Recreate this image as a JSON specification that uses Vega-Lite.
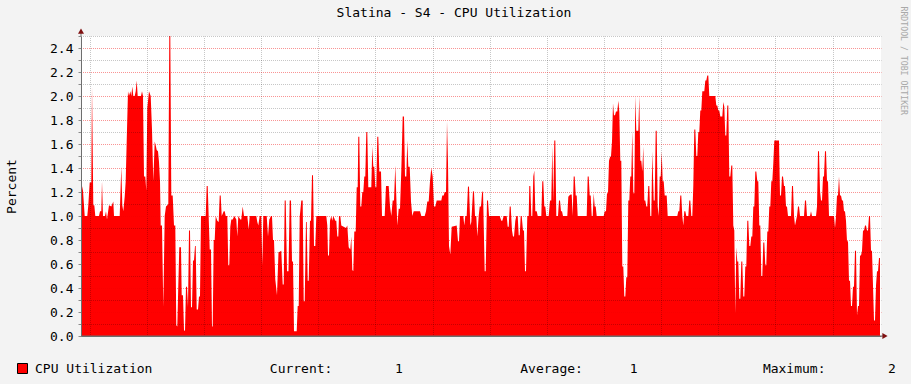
{
  "$schema": "https://vega.github.io/schema/vega-lite/v6.json",
  "width": 800,
  "height": 300,
  "autosize": {"type": "none"},
  "padding": {"left": 81, "top": 36, "right": 30, "bottom": 48},
  "background": "#f3f3f3",
  "config": {
    "font": "DejaVu Sans Mono",
    "view": {"fill": "#ffffff", "stroke": null}
  },
  "title": {
    "text": "Slatina - S4 - CPU Utilization",
    "font": "DejaVu Sans Mono",
    "fontSize": 13,
    "fontWeight": "normal",
    "color": "#000000",
    "anchor": "middle",
    "frame": "group",
    "offset": 0,
    "dx": -27,
    "dy": 14
  },
  "data": {"values": [
    {"t":0,"cpu":1.29},{"t":2,"cpu":1.21},{"t":3.7,"cpu":1.0},{"t":6.3,"cpu":1.0},{"t":7.3,"cpu":1.09},{"t":8.7,"cpu":1.28},{"t":10.3,"cpu":1.28},{"t":11,"cpu":2.08},{"t":12.3,"cpu":1.09},{"t":13.3,"cpu":1.09},{"t":14.3,"cpu":1.0},{"t":18,"cpu":1.0},{"t":19,"cpu":1.04},{"t":20.3,"cpu":1.04},{"t":21,"cpu":1.29},{"t":22,"cpu":1.0},{"t":24,"cpu":1.0},{"t":25,"cpu":1.04},{"t":26,"cpu":0.97},{"t":28,"cpu":1.09},{"t":30.3,"cpu":1.08},{"t":32.3,"cpu":1.12},{"t":33,"cpu":1.0},{"t":38.7,"cpu":1.0},{"t":40.3,"cpu":1.41},{"t":41.3,"cpu":1.09},{"t":42.3,"cpu":1.04},{"t":43.7,"cpu":1.16},{"t":44.7,"cpu":1.29},{"t":46,"cpu":1.72},{"t":47,"cpu":2.04},{"t":48,"cpu":2.0},{"t":49.3,"cpu":2.04},{"t":50.3,"cpu":2.0},{"t":51.3,"cpu":2.08},{"t":52.3,"cpu":2.0},{"t":53.7,"cpu":2.0},{"t":54.7,"cpu":2.04},{"t":55.7,"cpu":2.13},{"t":56.7,"cpu":2.0},{"t":60,"cpu":2.0},{"t":61,"cpu":2.04},{"t":62,"cpu":2.0},{"t":63,"cpu":1.33},{"t":64.3,"cpu":1.33},{"t":65.3,"cpu":1.21},{"t":66.3,"cpu":1.9},{"t":68,"cpu":2.04},{"t":69.7,"cpu":2.0},{"t":71,"cpu":1.72},{"t":72.3,"cpu":1.29},{"t":73.7,"cpu":1.62},{"t":74.7,"cpu":1.59},{"t":75.7,"cpu":1.55},{"t":77,"cpu":1.54},{"t":78,"cpu":1.45},{"t":79,"cpu":1.29},{"t":79.7,"cpu":0.92},{"t":81,"cpu":0.92},{"t":82.3,"cpu":0.24},{"t":83.7,"cpu":1.0},{"t":85,"cpu":1.08},{"t":86.3,"cpu":1.09},{"t":87.3,"cpu":1.1},{"t":88.3,"cpu":2.5},{"t":89.3,"cpu":2.5},{"t":90.3,"cpu":1.17},{"t":91.7,"cpu":1.17},{"t":93,"cpu":0.92},{"t":94.3,"cpu":0.92},{"t":95.3,"cpu":0.09},{"t":96.3,"cpu":0.08},{"t":97.3,"cpu":0.42},{"t":98.3,"cpu":0.74},{"t":100,"cpu":0.74},{"t":100.7,"cpu":0.34},{"t":102,"cpu":0.34},
    {"t":103,"cpu":0.05},{"t":104,"cpu":0.04},{"t":105,"cpu":0.41},{"t":106,"cpu":0.41},{"t":107,"cpu":0.24},{"t":108,"cpu":0.88},{"t":109,"cpu":0.88},{"t":110,"cpu":0.24},{"t":111,"cpu":0.24},{"t":112,"cpu":0.63},{"t":113,"cpu":0.63},{"t":114,"cpu":0.75},{"t":114.7,"cpu":0.75},{"t":115.7,"cpu":0.22},{"t":117,"cpu":0.22},{"t":118,"cpu":0.33},{"t":119,"cpu":0.33},{"t":120,"cpu":1.0},{"t":124.7,"cpu":1.0},{"t":125.7,"cpu":1.25},{"t":126.7,"cpu":1.25},{"t":127.7,"cpu":0.99},{"t":128.7,"cpu":0.72},{"t":130,"cpu":0.72},{"t":131,"cpu":0.08},{"t":131.7,"cpu":0.08},{"t":132.7,"cpu":0.8},{"t":133.7,"cpu":0.8},{"t":134.7,"cpu":1.0},{"t":136.3,"cpu":0.96},{"t":137.7,"cpu":0.95},{"t":138.7,"cpu":1.17},{"t":139.7,"cpu":1.17},{"t":140.7,"cpu":1.0},{"t":142.7,"cpu":1.04},{"t":143.7,"cpu":1.04},{"t":144.7,"cpu":1.0},{"t":146.3,"cpu":1.0},{"t":147.3,"cpu":0.59},{"t":148.3,"cpu":0.59},{"t":149.3,"cpu":0.91},{"t":150.3,"cpu":0.97},{"t":151.7,"cpu":0.97},{"t":153.3,"cpu":1.0},{"t":155.3,"cpu":0.97},{"t":156.3,"cpu":0.83},{"t":157.3,"cpu":1.0},{"t":159.3,"cpu":0.97},{"t":160.3,"cpu":0.97},{"t":161.7,"cpu":1.08},{"t":163,"cpu":1.0},{"t":166.3,"cpu":1.0},{"t":167.7,"cpu":0.89},{"t":168.7,"cpu":1.0},{"t":175.3,"cpu":1.0},{"t":176.3,"cpu":0.95},{"t":177.3,"cpu":0.92},{"t":178.7,"cpu":1.0},{"t":180.3,"cpu":1.0},{"t":181.3,"cpu":0.59},{"t":182.3,"cpu":1.0},{"t":185.7,"cpu":1.0},{"t":187,"cpu":0.83},{"t":188.3,"cpu":0.97},{"t":190,"cpu":1.0},{"t":191,"cpu":1.0},{"t":192,"cpu":0.8},{"t":193,"cpu":0.8},{"t":194.3,"cpu":0.47},{"t":196,"cpu":0.34},{"t":197.5,"cpu":0.7},
    {"t":198.3,"cpu":0.7},{"t":200.3,"cpu":0.71},{"t":201.7,"cpu":0.43},{"t":202.7,"cpu":0.43},{"t":203.7,"cpu":1.13},{"t":204.7,"cpu":1.13},{"t":206,"cpu":0.54},{"t":207.5,"cpu":0.54},{"t":208.7,"cpu":1.13},{"t":210,"cpu":1.13},{"t":211,"cpu":0.62},{"t":212,"cpu":0.62},{"t":213,"cpu":0.04},{"t":215.7,"cpu":0.04},{"t":216.7,"cpu":0.25},{"t":217.7,"cpu":0.25},{"t":218.7,"cpu":0.99},{"t":220.3,"cpu":1.13},{"t":221.7,"cpu":1.13},{"t":222.7,"cpu":0.29},{"t":223.7,"cpu":0.29},{"t":225,"cpu":0.95},{"t":225.7,"cpu":0.95},{"t":226.7,"cpu":0.46},{"t":227.7,"cpu":0.46},{"t":229,"cpu":0.96},{"t":230,"cpu":0.96},{"t":231,"cpu":1.34},{"t":232,"cpu":1.34},{"t":233,"cpu":0.75},{"t":234.3,"cpu":0.75},{"t":235.3,"cpu":1.0},{"t":245.3,"cpu":1.0},{"t":246.3,"cpu":0.92},{"t":247,"cpu":0.67},{"t":248,"cpu":0.67},{"t":249,"cpu":0.96},{"t":250.3,"cpu":1.0},{"t":251.3,"cpu":0.96},{"t":252.3,"cpu":1.0},{"t":254.3,"cpu":0.96},{"t":255.3,"cpu":0.96},{"t":256.3,"cpu":0.83},{"t":257.3,"cpu":0.83},{"t":258,"cpu":1.0},{"t":259.3,"cpu":1.0},{"t":260.3,"cpu":0.92},{"t":265,"cpu":0.9},{"t":266.3,"cpu":0.92},{"t":267.7,"cpu":0.74},{"t":269.3,"cpu":0.72},{"t":270.3,"cpu":0.83},{"t":271.3,"cpu":0.55},{"t":272.3,"cpu":0.54},{"t":273.3,"cpu":0.87},{"t":274.7,"cpu":0.87},{"t":275.7,"cpu":1.24},{"t":276.7,"cpu":1.24},{"t":277.3,"cpu":1.66},{"t":278.3,"cpu":1.66},{"t":279.3,"cpu":1.08},{"t":280.3,"cpu":1.08},{"t":281.3,"cpu":1.2},{"t":282.3,"cpu":1.2},{"t":283.3,"cpu":1.33},{"t":284.3,"cpu":1.33},{"t":285.3,"cpu":1.7},{"t":286.3,"cpu":1.7},{"t":287.3,"cpu":1.24},{"t":290.3,"cpu":1.24},{"t":291.3,"cpu":1.58},{"t":292.3,"cpu":1.41},{"t":293.3,"cpu":1.41},{"t":294.3,"cpu":1.24},{"t":295.3,"cpu":1.24},{"t":296.3,"cpu":1.66},{"t":297.3,"cpu":1.66},{"t":298.3,"cpu":1.37},{"t":300,"cpu":1.37},
    {"t":301,"cpu":1.0},{"t":303.7,"cpu":1.0},{"t":305,"cpu":1.25},{"t":307.7,"cpu":1.25},{"t":309,"cpu":1.08},{"t":310.3,"cpu":1.0},{"t":311.7,"cpu":1.13},{"t":313,"cpu":1.13},{"t":314.3,"cpu":1.42},{"t":315.3,"cpu":1.16},{"t":316.3,"cpu":0.92},{"t":317.7,"cpu":1.06},{"t":319,"cpu":1.06},{"t":320.3,"cpu":1.38},{"t":321.7,"cpu":1.83},{"t":323,"cpu":1.83},{"t":324,"cpu":1.33},{"t":325.3,"cpu":1.33},{"t":326.3,"cpu":1.63},{"t":327.3,"cpu":1.41},{"t":328.7,"cpu":1.41},{"t":330,"cpu":1.12},{"t":331.3,"cpu":1.0},{"t":332.7,"cpu":1.04},{"t":339,"cpu":1.04},{"t":340.3,"cpu":1.0},{"t":343.7,"cpu":1.0},{"t":345,"cpu":1.04},{"t":346.3,"cpu":1.12},{"t":347.7,"cpu":1.12},{"t":349,"cpu":1.29},{"t":350.3,"cpu":1.4},{"t":351.7,"cpu":1.33},{"t":353,"cpu":1.08},{"t":354.3,"cpu":1.08},{"t":355.7,"cpu":1.13},{"t":360.3,"cpu":1.13},{"t":361.3,"cpu":1.17},{"t":362.7,"cpu":1.17},{"t":363.7,"cpu":1.2},{"t":365,"cpu":1.2},{"t":366,"cpu":1.79},{"t":367,"cpu":1.44},{"t":368,"cpu":0.75},{"t":369.3,"cpu":0.68},{"t":370.7,"cpu":0.91},{"t":375.7,"cpu":0.92},{"t":377,"cpu":0.79},{"t":378,"cpu":0.79},{"t":379,"cpu":1.0},{"t":382.3,"cpu":1.0},{"t":383.3,"cpu":0.92},{"t":384.3,"cpu":1.0},{"t":385.7,"cpu":1.0},{"t":387,"cpu":1.25},{"t":388,"cpu":1.24},{"t":389.3,"cpu":0.92},{"t":390.3,"cpu":0.95},{"t":392,"cpu":1.21},{"t":393,"cpu":1.2},{"t":394,"cpu":1.0},{"t":395.3,"cpu":1.0},{"t":396.3,"cpu":0.83},{"t":397.7,"cpu":1.0},{"t":398.7,"cpu":1.08},{"t":400,"cpu":1.08},{"t":401,"cpu":1.19},{"t":402,"cpu":1.21},
    {"t":403.7,"cpu":0.54},{"t":404.7,"cpu":0.54},{"t":406,"cpu":1.13},{"t":407,"cpu":1.13},{"t":408,"cpu":1.0},{"t":418.7,"cpu":1.0},{"t":420.3,"cpu":0.96},{"t":421.3,"cpu":0.96},{"t":422.7,"cpu":1.0},{"t":425.7,"cpu":1.0},{"t":426.7,"cpu":0.91},{"t":427.7,"cpu":0.91},{"t":428.7,"cpu":1.08},{"t":429.7,"cpu":1.08},{"t":431,"cpu":0.88},{"t":432,"cpu":0.83},{"t":433,"cpu":0.83},{"t":434.3,"cpu":0.96},{"t":435.3,"cpu":1.0},{"t":436.7,"cpu":1.0},{"t":437.7,"cpu":0.84},{"t":438.7,"cpu":0.84},{"t":439.7,"cpu":1.0},{"t":440.7,"cpu":1.0},{"t":442,"cpu":0.88},{"t":443,"cpu":0.88},{"t":444,"cpu":0.54},{"t":445,"cpu":0.54},{"t":446.3,"cpu":1.0},{"t":447.7,"cpu":1.0},{"t":448.3,"cpu":1.25},{"t":449.3,"cpu":1.25},{"t":450.3,"cpu":1.0},{"t":451.3,"cpu":1.0},{"t":452.3,"cpu":1.33},{"t":453.3,"cpu":1.38},{"t":454.3,"cpu":1.04},{"t":455.7,"cpu":1.04},{"t":456.7,"cpu":1.0},{"t":460.3,"cpu":1.0},{"t":461.3,"cpu":1.29},{"t":462.3,"cpu":1.29},{"t":463.3,"cpu":1.08},{"t":464.3,"cpu":1.08},{"t":465.3,"cpu":1.0},{"t":467.7,"cpu":1.0},{"t":469,"cpu":1.13},{"t":470.3,"cpu":1.13},{"t":471.3,"cpu":1.58},{"t":472.3,"cpu":1.12},{"t":473.3,"cpu":1.63},{"t":474.3,"cpu":1.63},{"t":475.3,"cpu":1.0},{"t":477,"cpu":1.0},{"t":478,"cpu":1.13},{"t":479,"cpu":1.13},{"t":480,"cpu":1.04},{"t":481,"cpu":1.04},{"t":482,"cpu":1.0},{"t":486.3,"cpu":1.0},{"t":487.3,"cpu":1.16},{"t":488.3,"cpu":1.17},{"t":489.7,"cpu":1.18},{"t":490.7,"cpu":1.18},{"t":491.7,"cpu":1.0},{"t":492.7,"cpu":1.33},{"t":493.7,"cpu":1.33},{"t":494.7,"cpu":1.17},{"t":495.7,"cpu":1.17},{"t":496.7,"cpu":1.0},
    {"t":505.7,"cpu":1.0},{"t":506.7,"cpu":1.33},{"t":507.7,"cpu":1.33},{"t":508.7,"cpu":1.17},{"t":509.7,"cpu":1.17},{"t":510.7,"cpu":1.0},{"t":511.7,"cpu":1.0},{"t":512.7,"cpu":1.19},{"t":513.7,"cpu":1.08},{"t":514.7,"cpu":1.08},{"t":515.7,"cpu":1.0},{"t":522.7,"cpu":1.0},{"t":523.7,"cpu":1.04},{"t":525,"cpu":1.04},{"t":526,"cpu":1.19},{"t":527,"cpu":1.19},{"t":528,"cpu":1.46},{"t":529,"cpu":1.49},{"t":530,"cpu":1.5},{"t":531,"cpu":1.62},{"t":532,"cpu":1.94},{"t":533,"cpu":1.84},{"t":534,"cpu":1.84},{"t":535,"cpu":1.87},{"t":536.3,"cpu":1.87},{"t":537.3,"cpu":1.96},{"t":538.3,"cpu":1.87},{"t":539.3,"cpu":1.46},{"t":540.3,"cpu":1.46},{"t":541.3,"cpu":0.58},{"t":542.3,"cpu":0.58},{"t":543.3,"cpu":0.33},{"t":544.3,"cpu":0.33},{"t":545.3,"cpu":0.49},{"t":546.3,"cpu":0.49},{"t":547.3,"cpu":1.13},{"t":548.3,"cpu":1.13},{"t":549.3,"cpu":1.33},{"t":550.3,"cpu":1.33},{"t":551.3,"cpu":1.71},{"t":552.3,"cpu":1.19},{"t":553.3,"cpu":1.19},{"t":554.3,"cpu":2.0},{"t":555.3,"cpu":1.71},{"t":557.3,"cpu":1.71},{"t":558.3,"cpu":2.0},{"t":559.3,"cpu":1.46},{"t":560.3,"cpu":1.46},{"t":561.3,"cpu":1.37},{"t":562.3,"cpu":1.58},{"t":563.3,"cpu":1.13},{"t":564.3,"cpu":1.13},{"t":565.3,"cpu":1.08},{"t":566.3,"cpu":1.08},{"t":567.3,"cpu":1.25},{"t":568.3,"cpu":1.25},{"t":569.3,"cpu":1.0},{"t":570.3,"cpu":1.0},{"t":571.3,"cpu":1.54},{"t":572.7,"cpu":1.13},{"t":573.7,"cpu":1.13},{"t":574.7,"cpu":1.71},{"t":575.7,"cpu":1.71},{"t":576.7,"cpu":1.08},{"t":577.7,"cpu":1.0},{"t":578.7,"cpu":1.33},{"t":579.7,"cpu":1.33},{"t":580.7,"cpu":1.54},{"t":581.7,"cpu":1.29},{"t":582.7,"cpu":1.29},{"t":583.7,"cpu":1.17},{"t":585.7,"cpu":1.17},{"t":586.7,"cpu":1.0},{"t":596.3,"cpu":1.0},{"t":597.3,"cpu":1.04},{"t":598.3,"cpu":1.04},{"t":599.3,"cpu":1.17},{"t":600.3,"cpu":1.17},{"t":601.3,"cpu":1.0},
    {"t":602.3,"cpu":0.92},{"t":603.3,"cpu":1.04},{"t":604.3,"cpu":1.04},{"t":605.3,"cpu":1.0},{"t":607.3,"cpu":1.0},{"t":608.3,"cpu":1.13},{"t":609.3,"cpu":1.13},{"t":610.3,"cpu":1.0},{"t":611.3,"cpu":1.0},{"t":612.3,"cpu":1.25},{"t":613.3,"cpu":1.72},{"t":614.3,"cpu":1.72},{"t":615.3,"cpu":1.5},{"t":616.3,"cpu":1.5},{"t":617.3,"cpu":1.7},{"t":618.3,"cpu":1.7},{"t":619.3,"cpu":1.88},{"t":620.3,"cpu":1.88},{"t":621.3,"cpu":2.04},{"t":623.3,"cpu":2.04},{"t":624.3,"cpu":2.13},{"t":625.3,"cpu":2.13},{"t":626.3,"cpu":2.17},{"t":627.3,"cpu":2.17},{"t":628.3,"cpu":2.0},{"t":634.3,"cpu":2.0},{"t":635.3,"cpu":1.92},{"t":636.3,"cpu":1.92},{"t":637.3,"cpu":1.88},{"t":638.3,"cpu":1.88},{"t":639.3,"cpu":1.83},{"t":641.3,"cpu":1.83},{"t":642.3,"cpu":1.95},{"t":643.3,"cpu":1.91},{"t":644.3,"cpu":1.67},{"t":645.3,"cpu":1.67},{"t":646.3,"cpu":1.92},{"t":647.3,"cpu":1.92},{"t":648.3,"cpu":1.33},{"t":649.3,"cpu":1.33},{"t":650.3,"cpu":1.42},{"t":651.3,"cpu":1.42},{"t":652.3,"cpu":0.92},{"t":653.3,"cpu":0.88},{"t":654.3,"cpu":0.19},{"t":655.3,"cpu":0.74},{"t":656.3,"cpu":0.62},{"t":657.3,"cpu":0.62},{"t":658.3,"cpu":0.31},{"t":659.3,"cpu":0.31},{"t":660.3,"cpu":0.62},{"t":661.3,"cpu":0.62},{"t":662.3,"cpu":0.33},{"t":663.3,"cpu":0.33},{"t":664.3,"cpu":0.58},{"t":665.3,"cpu":0.58},{"t":666.3,"cpu":0.96},{"t":667.3,"cpu":0.96},{"t":668.3,"cpu":0.75},{"t":669.3,"cpu":0.75},{"t":670.3,"cpu":0.83},{"t":671.3,"cpu":0.83},{"t":672.3,"cpu":1.08},{"t":673.3,"cpu":1.08},{"t":674.3,"cpu":1.37},{"t":675.3,"cpu":1.37},{"t":676.3,"cpu":1.29},{"t":677.3,"cpu":1.29},{"t":678.3,"cpu":0.92},{"t":679.3,"cpu":0.92},{"t":680.3,"cpu":0.5},{"t":681.3,"cpu":0.5},{"t":682.3,"cpu":0.78},{"t":683.3,"cpu":0.78},{"t":684.3,"cpu":0.59},{"t":685.3,"cpu":0.59},{"t":686.3,"cpu":0.87},{"t":687.3,"cpu":0.87},{"t":688.3,"cpu":1.08},{"t":689.3,"cpu":1.08},{"t":690.3,"cpu":1.29},{"t":691.3,"cpu":1.29},{"t":692.3,"cpu":1.44},{"t":693.3,"cpu":1.63},{"t":696.3,"cpu":1.63},
    {"t":697,"cpu":1.63},{"t":698,"cpu":1.63},{"t":699,"cpu":1.17},{"t":700,"cpu":1.17},{"t":701,"cpu":1.33},{"t":702,"cpu":1.33},{"t":703,"cpu":1.25},{"t":704,"cpu":1.25},{"t":705,"cpu":1.08},{"t":706,"cpu":1.08},{"t":707,"cpu":1.0},{"t":710,"cpu":1.0},{"t":711,"cpu":1.25},{"t":712,"cpu":1.25},{"t":713,"cpu":1.0},{"t":714,"cpu":0.92},{"t":715,"cpu":0.96},{"t":716,"cpu":1.0},{"t":717,"cpu":1.08},{"t":718,"cpu":1.08},{"t":719,"cpu":1.0},{"t":723,"cpu":1.0},{"t":724,"cpu":1.13},{"t":725,"cpu":1.13},{"t":726,"cpu":1.0},{"t":729,"cpu":1.0},{"t":730,"cpu":1.04},{"t":731,"cpu":1.0},{"t":735,"cpu":1.0},{"t":736,"cpu":1.08},{"t":737,"cpu":1.54},{"t":738,"cpu":1.54},{"t":739,"cpu":1.21},{"t":740,"cpu":1.13},{"t":741,"cpu":1.13},{"t":742,"cpu":1.33},{"t":743,"cpu":1.33},{"t":744,"cpu":1.54},{"t":745,"cpu":1.54},{"t":746,"cpu":1.29},{"t":747,"cpu":1.29},{"t":748,"cpu":1.0},{"t":753,"cpu":1.0},{"t":754,"cpu":0.9},{"t":755,"cpu":1.0},{"t":756,"cpu":1.17},{"t":757,"cpu":1.17},{"t":758,"cpu":1.33},{"t":759,"cpu":1.17},{"t":760,"cpu":1.17},{"t":761,"cpu":1.13},{"t":762,"cpu":1.13},{"t":763,"cpu":1.04},{"t":764,"cpu":1.04},{"t":765,"cpu":0.96},{"t":766,"cpu":0.79},{"t":767,"cpu":0.79},{"t":768,"cpu":0.46},{"t":769,"cpu":0.46},{"t":770,"cpu":0.25},{"t":771,"cpu":0.25},{"t":772,"cpu":0.41},{"t":773,"cpu":0.41},{"t":774,"cpu":0.71},{"t":775,"cpu":0.71},{"t":776,"cpu":0.17},{"t":777,"cpu":0.25},{"t":778,"cpu":0.25},{"t":779,"cpu":0.67},{"t":780,"cpu":0.67},{"t":781,"cpu":0.71},{"t":782,"cpu":0.88},{"t":783,"cpu":0.88},{"t":784,"cpu":0.92},{"t":785,"cpu":0.92},{"t":786,"cpu":0.88},{"t":787,"cpu":0.88},{"t":788,"cpu":1.0},{"t":789,"cpu":1.0},{"t":790,"cpu":0.71},{"t":791,"cpu":0.71},{"t":792,"cpu":0.42},{"t":793,"cpu":0.13},{"t":794,"cpu":0.13},{"t":795,"cpu":0.42},{"t":796,"cpu":0.54},{"t":797,"cpu":0.54},{"t":798,"cpu":0.65},{"t":799,"cpu":0.65}
  ]},
  "resolve": {"axis": {"y": "independent"}},
  "layer": [
    {
      "mark": {"type": "area", "interpolate": "linear", "opacity": 1},
      "encoding": {
        "x": {
          "field": "t", "type": "quantitative",
          "scale": {"domain": [0, 800], "nice": false, "zero": false},
          "axis": {
            "title": null,
            "values": [9, 37, 66, 94, 123, 152, 180, 209, 237, 266, 294, 323, 352, 380, 409, 437, 466, 494, 523, 552, 580, 609, 637, 666, 694, 723, 752, 780],
            "labelExpr": "round((datum.value-8.7)/28.5714)%4==3 ? ['Fri','Sat','Sun','Mon','Tue','Wed','Thu'][floor(round((datum.value-8.7)/28.5714)/4)] : ''",
            "grid": true,
            "gridColor": {"condition": {"test": "round((datum.value-8.7)/28.5714)%4==1", "value": "rgba(240,0,0,0.42)"}, "value": "rgba(0,0,0,0.22)"},
            "gridDash": [1, 1],
            "gridDashOffset": 0.5,
            "gridWidth": 1,
            "gridOpacity": 1,
            "ticks": false,
            "domainColor": "#6e6e6e",
            "labelFont": "DejaVu Sans Mono",
            "labelFontSize": 13,
            "labelColor": "#000000",
            "labelPadding": 5,
            "labelOverlap": false,
            "labelFlush": false,
            "labelBound": false,
            "zindex": 1
          }
        },
        "y": {
          "field": "cpu", "type": "quantitative",
          "scale": {"domain": [0, 2.5], "nice": false, "zero": true},
          "axis": {
            "orient": "left",
            "title": "Percent",
            "titleFont": "DejaVu Sans Mono",
            "titleFontSize": 13,
            "titleFontWeight": "normal",
            "titleColor": "#000000",
            "titleAngle": 270,
            "titleAlign": "center",
            "titleBaseline": "middle",
            "titleX": -70,
            "titleY": 150,
            "values": [0, 0.1, 0.2, 0.3, 0.4, 0.5, 0.6, 0.7, 0.8, 0.9, 1.0, 1.1, 1.2, 1.3, 1.4, 1.5, 1.6, 1.7, 1.8, 1.9, 2.0, 2.1, 2.2, 2.3, 2.4, 2.5],
            "labelExpr": "round(datum.value*10)%2==0 && datum.value < 2.45 ? format(datum.value, '.1f') : ''",
            "grid": true,
            "gridColor": {"condition": {"test": "round(datum.value*10)%2==0", "value": "rgba(240,0,0,0.42)"}, "value": "rgba(0,0,0,0.22)"},
            "gridDash": [1, 1],
            "gridDashOffset": 0.5,
            "gridWidth": 1,
            "tickSize": 3,
            "tickColor": "#8a8a8a",
            "domainColor": "#6e6e6e",
            "labelFont": "DejaVu Sans Mono",
            "labelFontSize": 13,
            "labelColor": "#000000",
            "labelPadding": 5,
            "labelOverlap": false,
            "labelFlush": false,
            "labelBound": false,
            "zindex": 1
          }
        },
        "color": {
          "datum": "CPU Utilization",
          "type": "nominal",
          "scale": {"range": ["#ff0000"]},
          "legend": {
            "orient": "none",
            "legendX": -65,
            "legendY": 326,
            "padding": 0,
            "title": null,
            "symbolType": "square",
            "symbolSize": 100,
            "symbolStrokeColor": "#000000",
            "symbolStrokeWidth": 1,
            "symbolOpacity": 1,
            "labelFont": "DejaVu Sans Mono",
            "labelFontSize": 13,
            "labelColor": "#000000",
            "labelLimit": 1000,
            "labelOffset": 6,
            "labelExpr": "datum.label + '\u00a0\u00a0\u00a0\u00a0\u00a0\u00a0\u00a0\u00a0\u00a0\u00a0\u00a0\u00a0\u00a0\u00a0\u00a0Current:\u00a0\u00a0\u00a0\u00a0\u00a0\u00a0\u00a0\u00a01\u00a0\u00a0\u00a0\u00a0\u00a0\u00a0\u00a0\u00a0\u00a0\u00a0\u00a0\u00a0\u00a0\u00a0\u00a0Average:\u00a0\u00a0\u00a0\u00a0\u00a0\u00a01\u00a0\u00a0\u00a0\u00a0\u00a0\u00a0\u00a0\u00a0\u00a0\u00a0\u00a0\u00a0\u00a0\u00a0\u00a0\u00a0Maximum:\u00a0\u00a0\u00a0\u00a0\u00a0\u00a0\u00a0\u00a02'"
          }
        }
      }
    },
    {
      "data": {"values": [{}]},
      "mark": {"type": "rule", "color": "#6e6e6e", "strokeWidth": 1, "clip": false},
      "encoding": {
        "x": {"datum": 0, "type": "quantitative"},
        "y": {"datum": 2.5, "type": "quantitative", "axis": null},
        "y2": {"datum": 2.53}
      }
    },
    {
      "data": {"values": [{}]},
      "mark": {"type": "rule", "color": "#6e6e6e", "strokeWidth": 1, "clip": false},
      "encoding": {
        "x": {"datum": 800, "type": "quantitative"},
        "x2": {"datum": 803},
        "y": {"datum": 0, "type": "quantitative", "axis": null}
      }
    },
    {
      "data": {"values": [{}]},
      "mark": {"type": "point", "shape": "triangle-up", "filled": true, "size": 36, "color": "#7f1010", "opacity": 1, "clip": false},
      "encoding": {
        "x": {"datum": 0, "type": "quantitative"},
        "y": {"datum": 2.54, "type": "quantitative", "axis": null}
      }
    },
    {
      "data": {"values": [{}]},
      "mark": {"type": "point", "shape": "triangle-right", "filled": true, "size": 36, "color": "#7f1010", "opacity": 1, "clip": false},
      "encoding": {
        "x": {"datum": 804, "type": "quantitative"},
        "y": {"datum": 0, "type": "quantitative", "axis": null}
      }
    },
    {
      "data": {"values": [{}]},
      "mark": {"type": "rule", "color": "#6e6e6e", "strokeWidth": 1},
      "encoding": {
        "y": {
          "datum": 0, "type": "quantitative",
          "axis": {
            "orient": "right",
            "title": "RRDTOOL / TOBI OETIKER",
            "titleFont": "DejaVu Sans Mono",
            "titleFontSize": 8.2,
            "titleFontWeight": "normal",
            "titleColor": "#a8a8a8",
            "titleAngle": 90,
            "titleAlign": "left",
            "titleBaseline": "middle",
            "titleX": 21,
            "titleY": -30,
            "labels": false,
            "ticks": false,
            "domain": false,
            "grid": false
          }
        }
      }
    }
  ]
}
